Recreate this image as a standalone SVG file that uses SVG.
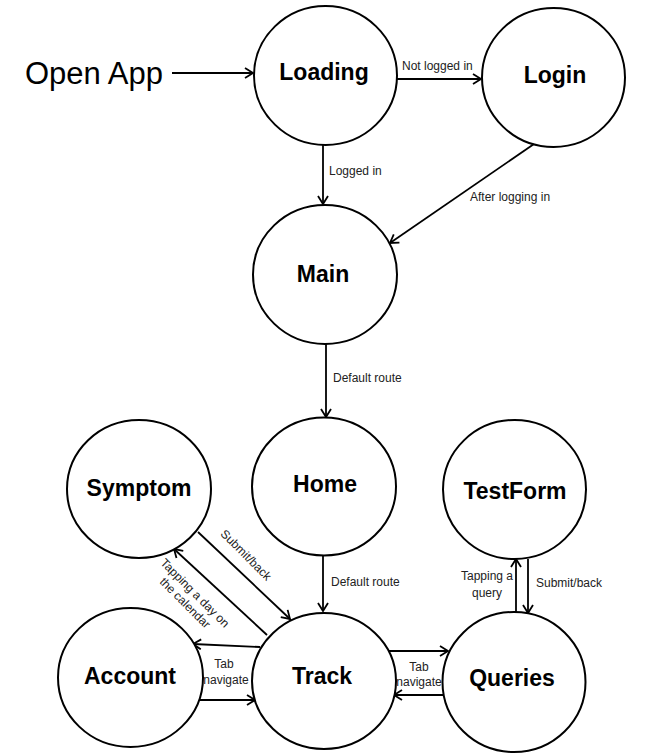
<svg xmlns="http://www.w3.org/2000/svg" width="650" height="756" viewBox="0 0 650 756">
<style>
.node{fill:#fff;stroke:#000;stroke-width:2}
.nl{font-family:"Liberation Sans",Arial,sans-serif;font-weight:bold;font-size:23px;fill:#000;text-anchor:middle}
.el{font-family:"Liberation Sans",Arial,sans-serif;font-size:12px;fill:#222}
.edge{fill:none;stroke:#000;stroke-width:1.8}
</style>
<defs>
<marker id="arr" markerUnits="userSpaceOnUse" markerWidth="14" markerHeight="14" refX="9" refY="6" orient="auto">
<path d="M1,1 L9,6 L1,11" fill="none" stroke="#000" stroke-width="1.8"/>
</marker>
</defs>
<rect width="650" height="756" fill="#fff"/>
<g id="connectors">
<line class="edge" x1="172" y1="73" x2="253" y2="73" marker-end="url(#arr)"/>
<line class="edge" x1="397" y1="79" x2="481" y2="79" marker-end="url(#arr)"/>
<text class="el" x="402" y="70">Not logged in</text>
<line class="edge" x1="323" y1="145" x2="323" y2="204" marker-end="url(#arr)"/>
<text class="el" x="329" y="175">Logged in</text>
<line class="edge" x1="534" y1="144" x2="390" y2="243" marker-end="url(#arr)"/>
<text class="el" x="470" y="201">After logging in</text>
<line class="edge" x1="326" y1="344" x2="326" y2="417" marker-end="url(#arr)"/>
<text class="el" x="333" y="382">Default route</text>
<line class="edge" x1="323" y1="556" x2="323" y2="611" marker-end="url(#arr)"/>
<text class="el" x="331" y="586">Default route</text>
<line class="edge" x1="198" y1="532" x2="290" y2="619" marker-end="url(#arr)"/>
<text class="el" text-anchor="middle" transform="translate(246,555) rotate(45)" y="4">Submit/back</text>
<line class="edge" x1="267" y1="635" x2="174" y2="549" marker-end="url(#arr)"/>
<text class="el" text-anchor="middle" transform="translate(190,598) rotate(45)"><tspan x="0" y="-3">Tapping a day on</tspan><tspan x="0" y="11">the calendar</tspan></text>
<line class="edge" x1="260" y1="647" x2="193" y2="644" marker-end="url(#arr)"/>
<line class="edge" x1="200" y1="700" x2="255" y2="700" marker-end="url(#arr)"/>
<text class="el" text-anchor="middle"><tspan x="224" y="668">Tab</tspan><tspan x="226" y="684">navigate</tspan></text>
<line class="edge" x1="389" y1="651" x2="448" y2="651" marker-end="url(#arr)"/>
<line class="edge" x1="444" y1="695" x2="394" y2="695" marker-end="url(#arr)"/>
<text class="el" text-anchor="middle"><tspan x="419" y="671">Tab</tspan><tspan x="419" y="686">navigate</tspan></text>
<line class="edge" x1="516" y1="612" x2="516" y2="559" marker-end="url(#arr)"/>
<text class="el" text-anchor="middle"><tspan x="487" y="580">Tapping a</tspan><tspan x="487" y="597">query</tspan></text>
<line class="edge" x1="528" y1="559" x2="528" y2="613" marker-end="url(#arr)"/>
<text class="el" x="536" y="587">Submit/back</text>
</g>
<text x="25" y="84" font-family="Liberation Sans, Arial, sans-serif" font-size="31" fill="#000">Open App</text>
<g id="node-loading"><ellipse class="node" cx="325.5" cy="75.5" rx="71.5" ry="69.5"/><text class="nl" x="324" y="80">Loading</text></g>
<g id="node-login"><ellipse class="node" cx="553.5" cy="77.5" rx="71.5" ry="69.5"/><text class="nl" x="555" y="83">Login</text></g>
<g id="node-main"><ellipse class="node" cx="325" cy="274.5" rx="72" ry="69.5"/><text class="nl" x="323" y="282">Main</text></g>
<g id="node-symptom"><ellipse class="node" cx="139" cy="489" rx="72" ry="69"/><text class="nl" x="139" y="496">Symptom</text></g>
<g id="node-home"><ellipse class="node" cx="324" cy="486.5" rx="72" ry="69"/><text class="nl" x="325" y="492">Home</text></g>
<g id="node-testform"><ellipse class="node" cx="514.5" cy="489.5" rx="71.5" ry="69.5"/><text class="nl" x="515" y="499">TestForm</text></g>
<g id="node-account"><ellipse class="node" cx="130.5" cy="677.5" rx="72.5" ry="69.5"/><text class="nl" x="130" y="684">Account</text></g>
<g id="node-track"><ellipse class="node" cx="324" cy="681" rx="72" ry="68"/><text class="nl" x="322" y="684">Track</text></g>
<g id="node-queries"><ellipse class="node" cx="514" cy="682" rx="71.5" ry="70"/><text class="nl" x="512" y="686">Queries</text></g>
</svg>
